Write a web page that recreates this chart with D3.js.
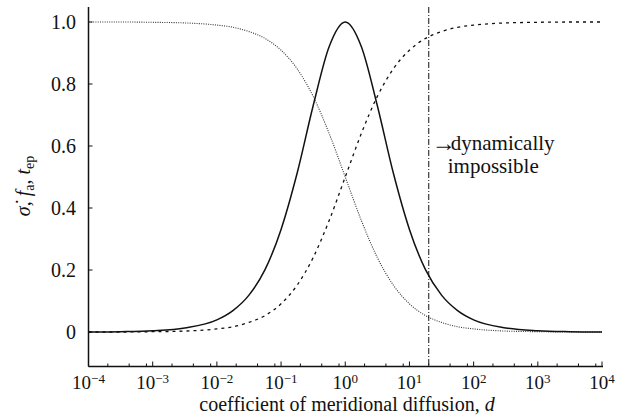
<!DOCTYPE html>
<html>
<head>
<meta charset="utf-8">
<script src="https://cdn.jsdelivr.net/npm/d3@7"></script>
</head>
<body style="margin:0">
<svg id="chart" width="631" height="417"></svg>
<script>
// sample positions along d, as powers of ten
const logD = [-4, -3.5, -3, -2.5, -2, -1.75, -1.5, -1.25, -1, -0.75, -0.5, -0.25, 0,
              0.25, 0.5, 0.75, 1, 1.25, 1.5, 1.75, 2, 2.5, 3, 3.5, 4];
// solid curve (sigma dot)
const sigmaDot = [0.000, 0.001, 0.004, 0.013, 0.039, 0.069, 0.119, 0.201, 0.331, 0.512, 0.730, 0.921, 1.000,
                  0.921, 0.730, 0.512, 0.331, 0.201, 0.119, 0.069, 0.039, 0.013, 0.004, 0.001, 0.000];
// dotted curve (f_a)
const fA = [1.000, 1.000, 0.999, 0.997, 0.990, 0.983, 0.969, 0.947, 0.909, 0.849, 0.760, 0.640, 0.500,
            0.360, 0.240, 0.151, 0.091, 0.053, 0.031, 0.017, 0.010, 0.003, 0.001, 0.000, 0.000];
// dashed curve (t_ep)
const tEp = [0.000, 0.000, 0.001, 0.003, 0.010, 0.017, 0.031, 0.053, 0.091, 0.151, 0.240, 0.360, 0.500,
             0.640, 0.760, 0.849, 0.909, 0.947, 0.969, 0.983, 0.990, 0.997, 0.999, 1.000, 1.000];
// limit beyond which the regime is dynamically impossible
const dLimit = 20;
// axis ticks
const xDecades = [-4, -3, -2, -1, 0, 1, 2, 3, 4];
const xMinorMult = [2, 4.3, 8];
const yTicks = [0, 0.2, 0.4, 0.6, 0.8, 1.0];
const yTickLabels = ["0", "0.2", "0.4", "0.6", "0.8", "1.0"];

const FAMILY = "Liberation Serif";
const INK = "#111";
const svg = d3.select("#chart")
  .attr("font-family", FAMILY).style("font-family", `'${FAMILY}'`);
const x = d3.scaleLog().domain([1e-4, 1e4]).range([88.5, 602]);
const y = d3.scaleLinear().domain([0, 1]).range([332, 22]);
const axisY = 366.5, axisX = 88.5, axisTop = 7;

// serif text with the given size
function txt(sel, size) {
  return sel.append("text")
    .attr("font-family", FAMILY).style("font-family", `'${FAMILY}'`)
    .attr("font-size", size).attr("fill", INK);
}

// axis lines
svg.append("line").attr("x1", axisX).attr("x2", axisX).attr("y1", axisTop).attr("y2", axisY)
  .attr("stroke", INK).attr("stroke-width", 1.5);
svg.append("line").attr("x1", axisX).attr("x2", x(1e4) + 1).attr("y1", axisY).attr("y2", axisY)
  .attr("stroke", INK).attr("stroke-width", 1.5);

// y axis ticks pointing inward
const gy = svg.append("g").attr("transform", `translate(${axisX},0)`);
gy.selectAll("line").data(yTicks).join("line")
  .attr("x1", 0).attr("x2", 4).attr("y1", d => y(d)).attr("y2", d => y(d))
  .attr("stroke", INK).attr("stroke-width", 1);
yTicks.forEach((v, i) => {
  txt(gy, 20).attr("x", -12.5).attr("y", y(v)).attr("dy", "0.33em")
    .attr("text-anchor", "end").text(yTickLabels[i]);
});

// x axis ticks: majors at decades, minors in between
const minorVals = [];
xDecades.slice(0, -1).forEach(e => xMinorMult.forEach(m => minorVals.push(m * Math.pow(10, e))));
const gx = svg.append("g");
gx.selectAll("line.major").data(xDecades).join("line").attr("class", "major")
  .attr("x1", e => x(Math.pow(10, e))).attr("x2", e => x(Math.pow(10, e)))
  .attr("y1", axisY).attr("y2", axisY - 5).attr("stroke", INK).attr("stroke-width", 1);
gx.selectAll("line.minor").data(minorVals).join("line").attr("class", "minor")
  .attr("x1", d => x(d)).attr("x2", d => x(d))
  .attr("y1", axisY).attr("y2", axisY - 3).attr("stroke", INK).attr("stroke-width", 1);

// decade labels with superscript exponents
xDecades.forEach(e => {
  const t = txt(gx, 19).attr("x", x(Math.pow(10, e))).attr("y", 389).attr("text-anchor", "middle");
  t.append("tspan").text("10");
  t.append("tspan").attr("dy", -6).attr("font-size", 13)
    .text(e < 0 ? "\u2212" + Math.abs(e) : String(e));
});

// x axis title
const xt = txt(svg, 20).attr("x", 347).attr("y", 411).attr("text-anchor", "middle");
xt.append("tspan").text("coefficient of meridional diffusion, ");
xt.append("tspan").attr("font-style", "italic").text("d");

// y axis title
const yt = txt(svg, 20).attr("transform", "translate(30,186) rotate(-90)").attr("text-anchor", "middle");
yt.append("tspan").attr("font-style", "italic").text("\u03C3\u0307");
yt.append("tspan").text(", ");
yt.append("tspan").attr("font-style", "italic").text("f");
yt.append("tspan").attr("dy", 4).attr("font-size", 14).text("a");
yt.append("tspan").attr("dy", -4).text(", ");
yt.append("tspan").attr("font-style", "italic").text("t");
yt.append("tspan").attr("dy", 4).attr("font-size", 14).text("ep");

// curves
const pts = arr => logD.map((e, i) => [Math.pow(10, e), arr[i]]);
const line = d3.line().x(d => x(d[0])).y(d => y(d[1])).curve(d3.curveMonotoneX);

svg.append("path").attr("d", line(pts(fA))).attr("fill", "none")
  .attr("stroke", "#333").attr("stroke-width", 1.1).attr("stroke-dasharray", "1,1.3");
svg.append("path").attr("d", line(pts(tEp))).attr("fill", "none")
  .attr("stroke", INK).attr("stroke-width", 1.3).attr("stroke-dasharray", "3,4");
svg.append("path").attr("d", line(pts(sigmaDot))).attr("fill", "none")
  .attr("stroke", INK).attr("stroke-width", 1.5);

// vertical limit line
svg.append("line").attr("x1", x(dLimit)).attr("x2", x(dLimit)).attr("y1", axisTop).attr("y2", axisY)
  .attr("stroke", INK).attr("stroke-width", 1).attr("stroke-dasharray", "6,2,1,2");

// annotation
txt(svg, 24).attr("x", x(dLimit) + 3).attr("y", 151).text("\u2192");
txt(svg, 21).attr("x", x(dLimit) + 22).attr("y", 150).text("dynamically");
txt(svg, 21).attr("x", x(dLimit) + 19).attr("y", 173).text("impossible");
</script>
</body>
</html>
